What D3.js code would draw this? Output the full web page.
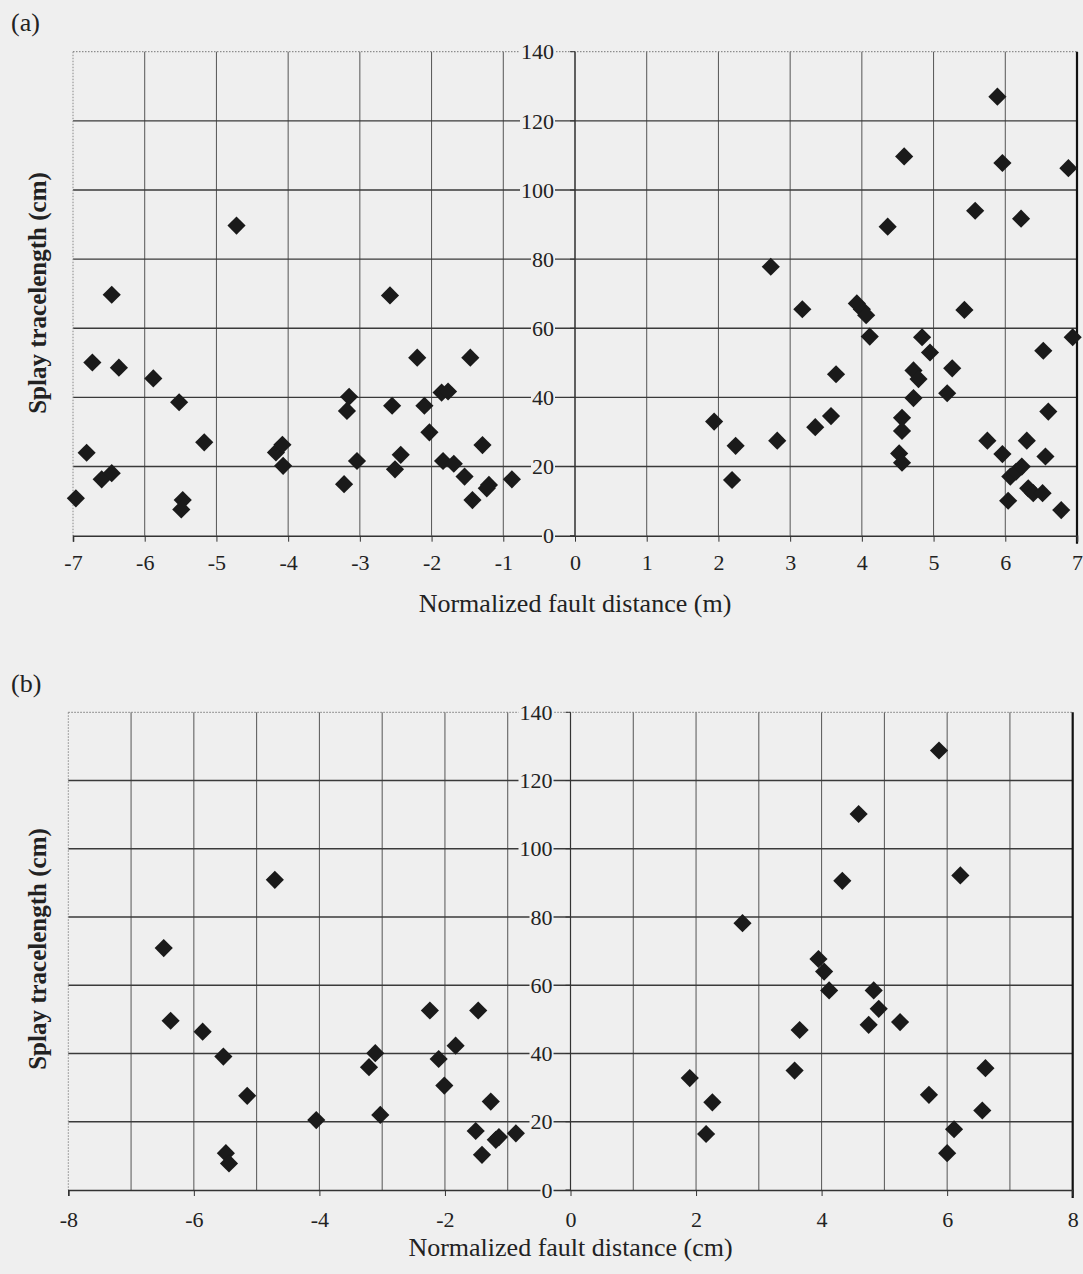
<!DOCTYPE html>
<html>
<head>
<meta charset="utf-8">
<script src="https://cdn.jsdelivr.net/npm/d3@7"></script>
<style>
  body { margin: 0; background: #efefef; }
  svg { display: block; font-family: "Liberation Serif", "Times New Roman", serif; }
</style>
</head>
<body>
<svg id="chart" width="1083" height="1274"></svg>
<script>
// panel (a): normalized fault distance (m) vs splay tracelength (cm)
const aDist = [-6.96, -6.81, -6.73, -6.60, -6.46, -6.46, -6.36, -5.88, -5.52, -5.47, -5.49, -5.17,
  -4.72, -4.17, -4.08, -4.07, -3.15, -3.18, -3.04, -3.22, -2.58, -2.55, -2.43, -2.51, -2.20, -2.10,
  -2.03, -1.86, -1.77, -1.84, -1.69, -1.54, -1.46, -1.43, -1.29, -1.20, -1.23, -0.88,
  1.94, 2.19, 2.24, 2.73, 2.82, 3.17, 3.35, 3.57, 3.64, 3.93, 4.00, 4.06, 4.11, 4.36, 4.52, 4.56,
  4.56, 4.56, 4.59, 4.72, 4.72, 4.79, 4.84, 4.95, 5.19, 5.26, 5.43, 5.58, 5.75, 5.89, 5.96, 5.96,
  6.04, 6.07, 6.15, 6.23, 6.22, 6.30, 6.32, 6.39, 6.52, 6.53, 6.56, 6.60, 6.78, 6.88, 6.94];
const aLen = [10.8, 24.0, 50.1, 16.3, 18.1, 69.7, 48.6, 45.5, 38.6, 10.3, 7.6, 27.0,
  89.7, 24.1, 26.3, 20.2, 40.2, 36.1, 21.6, 14.9, 69.5, 37.6, 23.4, 19.2, 51.5, 37.6,
  29.9, 41.4, 41.7, 21.6, 20.8, 17.1, 51.5, 10.3, 26.2, 14.7, 13.7, 16.3,
  33.0, 16.1, 26.0, 77.8, 27.5, 65.5, 31.4, 34.6, 46.7, 67.2, 65.5, 63.8, 57.6, 89.4, 23.8, 21.1,
  30.3, 34.1, 109.7, 39.8, 47.8, 45.3, 57.4, 53.0, 41.2, 48.4, 65.3, 94.0, 27.5, 127.0, 107.8, 23.6,
  10.1, 17.1, 18.5, 20.0, 91.7, 27.5, 13.7, 12.3, 12.3, 53.5, 22.9, 35.9, 7.4, 106.3, 57.4];

// panel (b): normalized fault distance (cm) vs splay tracelength (cm)
const bDist = [-6.48, -6.37, -5.86, -5.53, -5.49, -5.44, -5.15, -4.71, -4.05, -3.11, -3.21, -3.03,
  -2.24, -2.10, -2.01, -1.83, -1.51, -1.47, -1.41, -1.27, -1.19, -1.14, -0.87,
  1.90, 2.16, 2.26, 2.74, 3.57, 3.65, 3.95, 4.04, 4.12, 4.33, 4.59, 4.75, 4.83, 4.91, 5.25,
  5.71, 5.87, 6.00, 6.11, 6.21, 6.56, 6.61];
const bLen = [70.9, 49.6, 46.4, 39.1, 10.8, 7.8, 27.6, 90.9, 20.5, 40.1, 36.0, 22.0,
  52.6, 38.4, 30.6, 42.3, 17.3, 52.6, 10.3, 25.9, 14.7, 15.5, 16.6,
  32.8, 16.4, 25.7, 78.2, 35.0, 46.9, 67.7, 64.0, 58.5, 90.6, 110.2, 48.4, 58.5, 53.1, 49.2,
  27.9, 128.8, 10.8, 17.8, 92.2, 23.3, 35.7];

const yTicks = [0, 20, 40, 60, 80, 100, 120, 140];
const xTicksA = [-7, -6, -5, -4, -3, -2, -1, 0, 1, 2, 3, 4, 5, 6, 7];
const xTicksB = [-8, -6, -4, -2, 0, 2, 4, 6, 8];
const xGridB = [-8, -7, -6, -5, -4, -3, -2, -1, 0, 1, 2, 3, 4, 5, 6, 7, 8];

const svg = d3.select('#chart');
const BG = '#efefef', INK = '#222';

function drawPanel(p) {
  const g = svg.append('g');
  const x = d3.scaleLinear().domain(p.xDomain).range([p.left, p.right]);
  const y = d3.scaleLinear().domain([0, 140]).range([p.bottom, p.top]);

  // vertical grid
  g.selectAll('.vg').data(p.xGrid.filter(d => d > p.xDomain[0] && d < p.xDomain[1]))
    .enter().append('line')
    .attr('x1', d => x(d)).attr('x2', d => x(d))
    .attr('y1', y(140)).attr('y2', y(0))
    .attr('stroke', '#555').attr('stroke-width', 1);

  // horizontal grid
  g.selectAll('.hg').data(yTicks.filter(d => d > 0 && d < 140))
    .enter().append('line')
    .attr('x1', x(p.xDomain[0])).attr('x2', x(p.xDomain[1]))
    .attr('y1', d => y(d)).attr('y2', d => y(d))
    .attr('stroke', '#3a3a3a').attr('stroke-width', 1.4);

  // dotted top and left frame
  g.append('line').attr('x1', x(p.xDomain[0])).attr('x2', x(p.xDomain[1]))
    .attr('y1', y(140)).attr('y2', y(140))
    .attr('stroke', '#777').attr('stroke-width', 1).attr('stroke-dasharray', '1.5,1.5');
  g.append('line').attr('x1', x(p.xDomain[0])).attr('x2', x(p.xDomain[0]))
    .attr('y1', y(140)).attr('y2', y(0))
    .attr('stroke', '#888').attr('stroke-width', 1).attr('stroke-dasharray', '1.5,1.5');

  // solid right frame
  g.append('line').attr('x1', x(p.xDomain[1])).attr('x2', x(p.xDomain[1]))
    .attr('y1', y(140)).attr('y2', y(0) + 8)
    .attr('stroke', '#111').attr('stroke-width', 2.2);

  // bottom axis
  const xAxis = d3.axisBottom(x).tickValues(p.xTicks).tickSize(6).tickPadding(p.pad)
    .tickFormat(d => String(d));
  const ax = g.append('g').attr('transform', `translate(0,${y(0)})`).call(xAxis);
  ax.select('.domain').attr('stroke', '#333').attr('stroke-width', 1.6);
  ax.selectAll('.tick line').attr('stroke', '#333');
  ax.selectAll('.tick text').attr('fill', INK)
    .style('font-family', '"Liberation Serif", serif').style('font-size', '22px');

  // y axis at x = 0
  g.append('line').attr('x1', x(0)).attr('x2', x(0))
    .attr('y1', y(140)).attr('y2', y(0))
    .attr('stroke', '#333').attr('stroke-width', 1.2);
  g.selectAll('.ytick').data(yTicks).enter().append('line')
    .attr('x1', x(0) - 5).attr('x2', x(0))
    .attr('y1', d => y(d)).attr('y2', d => y(d))
    .attr('stroke', '#333');
  const lab = g.selectAll('.ylab').data(yTicks).enter().append('g');
  const txt = lab.append('text')
    .attr('x', x(0) - p.labGap).attr('y', d => y(d)).attr('dy', '0.35em')
    .attr('text-anchor', 'end').attr('fill', INK).style('font-size', '22px')
    .text(d => d);
  txt.each(function () {
    const b = this.getBBox();
    d3.select(this.parentNode).insert('rect', 'text')
      .attr('x', b.x - 1).attr('y', b.y + 3).attr('width', b.width + 2).attr('height', b.height - 6)
      .attr('fill', BG);
  });

  // points
  const sym = d3.symbol(d3.symbolSquare, 165);
  g.selectAll('.pt').data(p.xs.map((d, i) => [d, p.ys[i]]))
    .enter().append('path')
    .attr('d', sym)
    .attr('transform', d => `translate(${x(d[0])},${y(d[1])}) rotate(45)`)
    .attr('fill', '#1a1a1a');

  // titles
  g.append('text')
    .attr('x', (x(p.xDomain[0]) + x(p.xDomain[1])) / 2) .attr('y', p.xTitleY)
    .attr('text-anchor', 'middle').attr('fill', INK).style('font-size', '26px')
    .text(p.xTitle);
  g.append('text')
    .attr('transform', `translate(${p.yTitleX},${p.yTitleCy}) rotate(-90)`)
    .attr('text-anchor', 'middle').attr('fill', INK)
    .style('font-size', '25px').style('font-weight', 'bold')
    .text('Splay tracelength (cm)');
  g.append('text').attr('x', 11).attr('y', p.tagY)
    .attr('fill', INK).style('font-size', '26px').text(p.tag);
}

drawPanel({
  xs: aDist, ys: aLen, xDomain: [-7, 7], left: 73, right: 1077, top: 51.7, bottom: 535.7,
  xTicks: xTicksA, xGrid: xTicksA, pad: 13, labGap: 21,
  xTitle: 'Normalized fault distance (m)', xTitleY: 612,
  yTitleX: 46, yTitleCy: 293, tag: '(a)', tagY: 31
});

drawPanel({
  xs: bDist, ys: bLen, xDomain: [-8, 8], left: 68.3, right: 1072.7, top: 712.3, bottom: 1190,
  xTicks: xTicksB, xGrid: xGridB, pad: 15, labGap: 18,
  xTitle: 'Normalized fault distance (cm)', xTitleY: 1256,
  yTitleX: 46, yTitleCy: 949, tag: '(b)', tagY: 692
});
</script>
</body>
</html>
